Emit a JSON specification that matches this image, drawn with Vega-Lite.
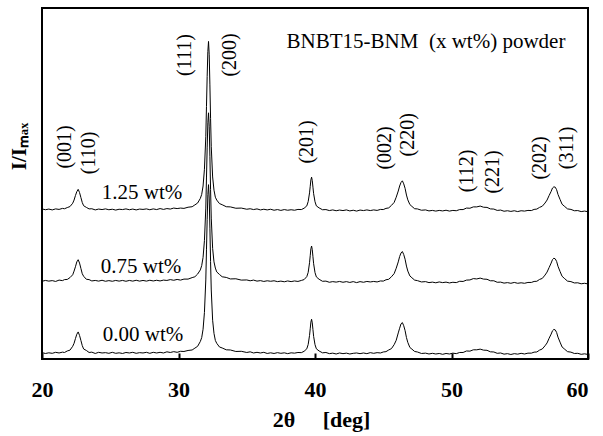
{
  "$schema": "https://vega.github.io/schema/vega-lite/v6.json",
  "width": 546,
  "height": 351,
  "autosize": {"type": "none"},
  "padding": {"left": 42, "top": 8, "right": 15, "bottom": 77},
  "background": "white",
  "config": {"view": {"stroke": "black", "strokeWidth": 2}, "font": "Liberation Serif"},
  "datasets": {
    "xrd": [
      {"t":"0.00","x":20.0,"y":0.038},{"t":"0.00","x":20.25,"y":0.033},{"t":"0.00","x":20.5,"y":0.037},{"t":"0.00","x":20.75,"y":0.034},{"t":"0.00","x":21.0,"y":0.040},{"t":"0.00","x":21.25,"y":0.036},{"t":"0.00","x":21.5,"y":0.041},{"t":"0.00","x":21.65,"y":0.039},{"t":"0.00","x":21.85,"y":0.048},{"t":"0.00","x":22.05,"y":0.053},{"t":"0.00","x":22.25,"y":0.076},{"t":"0.00","x":22.35,"y":0.094},{"t":"0.00","x":22.45,"y":0.122},{"t":"0.00","x":22.55,"y":0.148},{"t":"0.00","x":22.65,"y":0.162},{"t":"0.00","x":22.75,"y":0.141},{"t":"0.00","x":22.85,"y":0.111},{"t":"0.00","x":22.95,"y":0.080},{"t":"0.00","x":23.05,"y":0.060},{"t":"0.00","x":23.25,"y":0.051},{"t":"0.00","x":23.45,"y":0.039},{"t":"0.00","x":23.65,"y":0.041},{"t":"0.00","x":23.9,"y":0.033},{"t":"0.00","x":24.15,"y":0.040},{"t":"0.00","x":24.4,"y":0.036},{"t":"0.00","x":24.65,"y":0.038},{"t":"0.00","x":24.9,"y":0.034},{"t":"0.00","x":25.15,"y":0.040},{"t":"0.00","x":25.4,"y":0.034},{"t":"0.00","x":25.65,"y":0.037},{"t":"0.00","x":25.9,"y":0.033},{"t":"0.00","x":26.15,"y":0.039},{"t":"0.00","x":26.4,"y":0.036},{"t":"0.00","x":26.65,"y":0.040},{"t":"0.00","x":26.9,"y":0.034},{"t":"0.00","x":27.15,"y":0.038},{"t":"0.00","x":27.4,"y":0.036},{"t":"0.00","x":27.65,"y":0.040},{"t":"0.00","x":27.9,"y":0.034},{"t":"0.00","x":28.15,"y":0.040},{"t":"0.00","x":28.4,"y":0.036},{"t":"0.00","x":28.65,"y":0.040},{"t":"0.00","x":28.9,"y":0.036},{"t":"0.00","x":29.15,"y":0.043},{"t":"0.00","x":29.4,"y":0.039},{"t":"0.00","x":29.65,"y":0.044},{"t":"0.00","x":29.9,"y":0.040},{"t":"0.00","x":30.15,"y":0.046},{"t":"0.00","x":30.4,"y":0.045},{"t":"0.00","x":30.7,"y":0.051},{"t":"0.00","x":31.0,"y":0.054},{"t":"0.00","x":31.2,"y":0.065},{"t":"0.00","x":31.4,"y":0.076},{"t":"0.00","x":31.6,"y":0.105},{"t":"0.00","x":31.7,"y":0.128},{"t":"0.00","x":31.8,"y":0.178},{"t":"0.00","x":31.9,"y":0.278},{"t":"0.00","x":32.0,"y":0.473},{"t":"0.00","x":32.05,"y":0.653},{"t":"0.00","x":32.1,"y":0.833},{"t":"0.00","x":32.15,"y":0.983},{"t":"0.00","x":32.2,"y":1.043},{"t":"0.00","x":32.25,"y":0.963},{"t":"0.00","x":32.3,"y":0.783},{"t":"0.00","x":32.35,"y":0.583},{"t":"0.00","x":32.4,"y":0.413},{"t":"0.00","x":32.5,"y":0.232},{"t":"0.00","x":32.6,"y":0.153},{"t":"0.00","x":32.7,"y":0.111},{"t":"0.00","x":32.8,"y":0.094},{"t":"0.00","x":33.0,"y":0.072},{"t":"0.00","x":33.2,"y":0.066},{"t":"0.00","x":33.5,"y":0.055},{"t":"0.00","x":33.8,"y":0.054},{"t":"0.00","x":34.2,"y":0.045},{"t":"0.00","x":34.6,"y":0.046},{"t":"0.00","x":35.0,"y":0.039},{"t":"0.00","x":35.25,"y":0.043},{"t":"0.00","x":35.5,"y":0.036},{"t":"0.00","x":35.75,"y":0.040},{"t":"0.00","x":36.0,"y":0.036},{"t":"0.00","x":36.25,"y":0.040},{"t":"0.00","x":36.5,"y":0.033},{"t":"0.00","x":36.75,"y":0.037},{"t":"0.00","x":37.0,"y":0.033},{"t":"0.00","x":37.25,"y":0.038},{"t":"0.00","x":37.5,"y":0.034},{"t":"0.00","x":37.75,"y":0.037},{"t":"0.00","x":38.0,"y":0.032},{"t":"0.00","x":38.25,"y":0.037},{"t":"0.00","x":38.5,"y":0.035},{"t":"0.00","x":38.75,"y":0.039},{"t":"0.00","x":39.0,"y":0.038},{"t":"0.00","x":39.2,"y":0.046},{"t":"0.00","x":39.4,"y":0.061},{"t":"0.00","x":39.5,"y":0.087},{"t":"0.00","x":39.6,"y":0.141},{"t":"0.00","x":39.65,"y":0.181},{"t":"0.00","x":39.7,"y":0.221},{"t":"0.00","x":39.75,"y":0.238},{"t":"0.00","x":39.8,"y":0.216},{"t":"0.00","x":39.85,"y":0.176},{"t":"0.00","x":39.9,"y":0.135},{"t":"0.00","x":40.0,"y":0.086},{"t":"0.00","x":40.1,"y":0.061},{"t":"0.00","x":40.3,"y":0.048},{"t":"0.00","x":40.55,"y":0.037},{"t":"0.00","x":40.8,"y":0.039},{"t":"0.00","x":41.05,"y":0.032},{"t":"0.00","x":41.3,"y":0.035},{"t":"0.00","x":41.55,"y":0.030},{"t":"0.00","x":41.8,"y":0.036},{"t":"0.00","x":42.05,"y":0.032},{"t":"0.00","x":42.3,"y":0.035},{"t":"0.00","x":42.55,"y":0.030},{"t":"0.00","x":42.8,"y":0.034},{"t":"0.00","x":43.05,"y":0.036},{"t":"0.00","x":43.3,"y":0.032},{"t":"0.00","x":43.55,"y":0.036},{"t":"0.00","x":43.8,"y":0.032},{"t":"0.00","x":44.05,"y":0.038},{"t":"0.00","x":44.3,"y":0.034},{"t":"0.00","x":44.55,"y":0.038},{"t":"0.00","x":44.8,"y":0.036},{"t":"0.00","x":45.0,"y":0.042},{"t":"0.00","x":45.2,"y":0.044},{"t":"0.00","x":45.4,"y":0.054},{"t":"0.00","x":45.6,"y":0.062},{"t":"0.00","x":45.8,"y":0.086},{"t":"0.00","x":45.95,"y":0.112},{"t":"0.00","x":46.1,"y":0.156},{"t":"0.00","x":46.2,"y":0.184},{"t":"0.00","x":46.3,"y":0.210},{"t":"0.00","x":46.4,"y":0.218},{"t":"0.00","x":46.5,"y":0.199},{"t":"0.00","x":46.6,"y":0.170},{"t":"0.00","x":46.7,"y":0.128},{"t":"0.00","x":46.8,"y":0.099},{"t":"0.00","x":46.95,"y":0.069},{"t":"0.00","x":47.1,"y":0.059},{"t":"0.00","x":47.3,"y":0.045},{"t":"0.00","x":47.5,"y":0.042},{"t":"0.00","x":47.8,"y":0.033},{"t":"0.00","x":48.1,"y":0.035},{"t":"0.00","x":48.35,"y":0.030},{"t":"0.00","x":48.6,"y":0.034},{"t":"0.00","x":48.85,"y":0.030},{"t":"0.00","x":49.1,"y":0.033},{"t":"0.00","x":49.35,"y":0.028},{"t":"0.00","x":49.6,"y":0.033},{"t":"0.00","x":49.85,"y":0.030},{"t":"0.00","x":50.1,"y":0.035},{"t":"0.00","x":50.35,"y":0.032},{"t":"0.00","x":50.6,"y":0.039},{"t":"0.00","x":50.85,"y":0.039},{"t":"0.00","x":51.1,"y":0.048},{"t":"0.00","x":51.35,"y":0.047},{"t":"0.00","x":51.6,"y":0.055},{"t":"0.00","x":51.85,"y":0.055},{"t":"0.00","x":52.1,"y":0.059},{"t":"0.00","x":52.35,"y":0.053},{"t":"0.00","x":52.6,"y":0.052},{"t":"0.00","x":52.85,"y":0.043},{"t":"0.00","x":53.1,"y":0.042},{"t":"0.00","x":53.35,"y":0.034},{"t":"0.00","x":53.6,"y":0.036},{"t":"0.00","x":53.85,"y":0.029},{"t":"0.00","x":54.1,"y":0.032},{"t":"0.00","x":54.35,"y":0.027},{"t":"0.00","x":54.6,"y":0.032},{"t":"0.00","x":54.85,"y":0.029},{"t":"0.00","x":55.1,"y":0.034},{"t":"0.00","x":55.35,"y":0.030},{"t":"0.00","x":55.6,"y":0.035},{"t":"0.00","x":55.85,"y":0.035},{"t":"0.00","x":56.05,"y":0.041},{"t":"0.00","x":56.25,"y":0.042},{"t":"0.00","x":56.45,"y":0.053},{"t":"0.00","x":56.65,"y":0.060},{"t":"0.00","x":56.85,"y":0.079},{"t":"0.00","x":57.0,"y":0.096},{"t":"0.00","x":57.15,"y":0.124},{"t":"0.00","x":57.3,"y":0.149},{"t":"0.00","x":57.4,"y":0.169},{"t":"0.00","x":57.5,"y":0.177},{"t":"0.00","x":57.6,"y":0.174},{"t":"0.00","x":57.7,"y":0.159},{"t":"0.00","x":57.8,"y":0.131},{"t":"0.00","x":57.95,"y":0.101},{"t":"0.00","x":58.1,"y":0.072},{"t":"0.00","x":58.3,"y":0.058},{"t":"0.00","x":58.5,"y":0.044},{"t":"0.00","x":58.75,"y":0.041},{"t":"0.00","x":59.0,"y":0.033},{"t":"0.00","x":59.25,"y":0.034},{"t":"0.00","x":59.5,"y":0.028},{"t":"0.00","x":59.75,"y":0.031},{"t":"0.00","x":60.0,"y":0.027},

      {"t":"0.75","x":20.0,"y":0.465},{"t":"0.75","x":20.25,"y":0.470},{"t":"0.75","x":20.5,"y":0.466},{"t":"0.75","x":20.75,"y":0.469},{"t":"0.75","x":21.0,"y":0.464},{"t":"0.75","x":21.25,"y":0.472},{"t":"0.75","x":21.5,"y":0.469},{"t":"0.75","x":21.65,"y":0.475},{"t":"0.75","x":21.85,"y":0.476},{"t":"0.75","x":22.05,"y":0.487},{"t":"0.75","x":22.25,"y":0.504},{"t":"0.75","x":22.35,"y":0.526},{"t":"0.75","x":22.45,"y":0.552},{"t":"0.75","x":22.55,"y":0.581},{"t":"0.75","x":22.65,"y":0.594},{"t":"0.75","x":22.75,"y":0.574},{"t":"0.75","x":22.85,"y":0.542},{"t":"0.75","x":22.95,"y":0.510},{"t":"0.75","x":23.05,"y":0.495},{"t":"0.75","x":23.25,"y":0.477},{"t":"0.75","x":23.45,"y":0.475},{"t":"0.75","x":23.65,"y":0.467},{"t":"0.75","x":23.9,"y":0.470},{"t":"0.75","x":24.15,"y":0.466},{"t":"0.75","x":24.4,"y":0.471},{"t":"0.75","x":24.65,"y":0.465},{"t":"0.75","x":24.9,"y":0.469},{"t":"0.75","x":25.15,"y":0.465},{"t":"0.75","x":25.4,"y":0.470},{"t":"0.75","x":25.65,"y":0.466},{"t":"0.75","x":25.9,"y":0.470},{"t":"0.75","x":26.15,"y":0.465},{"t":"0.75","x":26.4,"y":0.470},{"t":"0.75","x":26.65,"y":0.466},{"t":"0.75","x":26.9,"y":0.471},{"t":"0.75","x":27.15,"y":0.466},{"t":"0.75","x":27.4,"y":0.470},{"t":"0.75","x":27.65,"y":0.466},{"t":"0.75","x":27.9,"y":0.471},{"t":"0.75","x":28.15,"y":0.467},{"t":"0.75","x":28.4,"y":0.471},{"t":"0.75","x":28.65,"y":0.467},{"t":"0.75","x":28.9,"y":0.472},{"t":"0.75","x":29.15,"y":0.470},{"t":"0.75","x":29.4,"y":0.475},{"t":"0.75","x":29.65,"y":0.471},{"t":"0.75","x":29.9,"y":0.476},{"t":"0.75","x":30.15,"y":0.472},{"t":"0.75","x":30.4,"y":0.478},{"t":"0.75","x":30.7,"y":0.478},{"t":"0.75","x":31.0,"y":0.487},{"t":"0.75","x":31.2,"y":0.492},{"t":"0.75","x":31.4,"y":0.508},{"t":"0.75","x":31.6,"y":0.533},{"t":"0.75","x":31.7,"y":0.559},{"t":"0.75","x":31.8,"y":0.608},{"t":"0.75","x":31.9,"y":0.708},{"t":"0.75","x":32.0,"y":0.903},{"t":"0.75","x":32.05,"y":1.083},{"t":"0.75","x":32.1,"y":1.263},{"t":"0.75","x":32.15,"y":1.413},{"t":"0.75","x":32.2,"y":1.473},{"t":"0.75","x":32.25,"y":1.393},{"t":"0.75","x":32.3,"y":1.213},{"t":"0.75","x":32.35,"y":1.013},{"t":"0.75","x":32.4,"y":0.843},{"t":"0.75","x":32.5,"y":0.662},{"t":"0.75","x":32.6,"y":0.581},{"t":"0.75","x":32.7,"y":0.544},{"t":"0.75","x":32.8,"y":0.521},{"t":"0.75","x":33.0,"y":0.506},{"t":"0.75","x":33.2,"y":0.492},{"t":"0.75","x":33.5,"y":0.488},{"t":"0.75","x":33.8,"y":0.479},{"t":"0.75","x":34.2,"y":0.480},{"t":"0.75","x":34.6,"y":0.472},{"t":"0.75","x":35.0,"y":0.473},{"t":"0.75","x":35.25,"y":0.468},{"t":"0.75","x":35.5,"y":0.472},{"t":"0.75","x":35.75,"y":0.466},{"t":"0.75","x":36.0,"y":0.469},{"t":"0.75","x":36.25,"y":0.464},{"t":"0.75","x":36.5,"y":0.468},{"t":"0.75","x":36.75,"y":0.465},{"t":"0.75","x":37.0,"y":0.468},{"t":"0.75","x":37.25,"y":0.463},{"t":"0.75","x":37.5,"y":0.466},{"t":"0.75","x":37.75,"y":0.462},{"t":"0.75","x":38.0,"y":0.467},{"t":"0.75","x":38.25,"y":0.463},{"t":"0.75","x":38.5,"y":0.467},{"t":"0.75","x":38.75,"y":0.464},{"t":"0.75","x":39.0,"y":0.470},{"t":"0.75","x":39.2,"y":0.475},{"t":"0.75","x":39.4,"y":0.493},{"t":"0.75","x":39.5,"y":0.518},{"t":"0.75","x":39.6,"y":0.576},{"t":"0.75","x":39.65,"y":0.618},{"t":"0.75","x":39.7,"y":0.660},{"t":"0.75","x":39.75,"y":0.676},{"t":"0.75","x":39.8,"y":0.654},{"t":"0.75","x":39.85,"y":0.612},{"t":"0.75","x":39.9,"y":0.570},{"t":"0.75","x":40.0,"y":0.517},{"t":"0.75","x":40.1,"y":0.491},{"t":"0.75","x":40.3,"y":0.477},{"t":"0.75","x":40.55,"y":0.465},{"t":"0.75","x":40.8,"y":0.466},{"t":"0.75","x":41.05,"y":0.459},{"t":"0.75","x":41.3,"y":0.463},{"t":"0.75","x":41.55,"y":0.460},{"t":"0.75","x":41.8,"y":0.464},{"t":"0.75","x":42.05,"y":0.459},{"t":"0.75","x":42.3,"y":0.463},{"t":"0.75","x":42.55,"y":0.458},{"t":"0.75","x":42.8,"y":0.463},{"t":"0.75","x":43.05,"y":0.457},{"t":"0.75","x":43.3,"y":0.463},{"t":"0.75","x":43.55,"y":0.459},{"t":"0.75","x":43.8,"y":0.464},{"t":"0.75","x":44.05,"y":0.461},{"t":"0.75","x":44.3,"y":0.464},{"t":"0.75","x":44.55,"y":0.461},{"t":"0.75","x":44.8,"y":0.467},{"t":"0.75","x":45.0,"y":0.466},{"t":"0.75","x":45.2,"y":0.474},{"t":"0.75","x":45.4,"y":0.477},{"t":"0.75","x":45.6,"y":0.492},{"t":"0.75","x":45.8,"y":0.511},{"t":"0.75","x":45.95,"y":0.543},{"t":"0.75","x":46.1,"y":0.581},{"t":"0.75","x":46.2,"y":0.613},{"t":"0.75","x":46.3,"y":0.634},{"t":"0.75","x":46.4,"y":0.643},{"t":"0.75","x":46.5,"y":0.625},{"t":"0.75","x":46.6,"y":0.597},{"t":"0.75","x":46.7,"y":0.556},{"t":"0.75","x":46.8,"y":0.526},{"t":"0.75","x":46.95,"y":0.497},{"t":"0.75","x":47.1,"y":0.486},{"t":"0.75","x":47.3,"y":0.472},{"t":"0.75","x":47.5,"y":0.469},{"t":"0.75","x":47.8,"y":0.461},{"t":"0.75","x":48.1,"y":0.463},{"t":"0.75","x":48.35,"y":0.457},{"t":"0.75","x":48.6,"y":0.460},{"t":"0.75","x":48.85,"y":0.456},{"t":"0.75","x":49.1,"y":0.461},{"t":"0.75","x":49.35,"y":0.457},{"t":"0.75","x":49.6,"y":0.460},{"t":"0.75","x":49.85,"y":0.455},{"t":"0.75","x":50.1,"y":0.459},{"t":"0.75","x":50.35,"y":0.457},{"t":"0.75","x":50.6,"y":0.465},{"t":"0.75","x":50.85,"y":0.464},{"t":"0.75","x":51.1,"y":0.472},{"t":"0.75","x":51.35,"y":0.473},{"t":"0.75","x":51.6,"y":0.481},{"t":"0.75","x":51.85,"y":0.479},{"t":"0.75","x":52.1,"y":0.484},{"t":"0.75","x":52.35,"y":0.478},{"t":"0.75","x":52.6,"y":0.477},{"t":"0.75","x":52.85,"y":0.468},{"t":"0.75","x":53.1,"y":0.468},{"t":"0.75","x":53.35,"y":0.459},{"t":"0.75","x":53.6,"y":0.460},{"t":"0.75","x":53.85,"y":0.454},{"t":"0.75","x":54.1,"y":0.457},{"t":"0.75","x":54.35,"y":0.453},{"t":"0.75","x":54.6,"y":0.458},{"t":"0.75","x":54.85,"y":0.453},{"t":"0.75","x":55.1,"y":0.456},{"t":"0.75","x":55.35,"y":0.453},{"t":"0.75","x":55.6,"y":0.458},{"t":"0.75","x":55.85,"y":0.458},{"t":"0.75","x":56.05,"y":0.464},{"t":"0.75","x":56.25,"y":0.465},{"t":"0.75","x":56.45,"y":0.476},{"t":"0.75","x":56.65,"y":0.482},{"t":"0.75","x":56.85,"y":0.502},{"t":"0.75","x":57.0,"y":0.520},{"t":"0.75","x":57.15,"y":0.547},{"t":"0.75","x":57.3,"y":0.574},{"t":"0.75","x":57.4,"y":0.595},{"t":"0.75","x":57.5,"y":0.603},{"t":"0.75","x":57.6,"y":0.599},{"t":"0.75","x":57.7,"y":0.584},{"t":"0.75","x":57.8,"y":0.555},{"t":"0.75","x":57.95,"y":0.524},{"t":"0.75","x":58.1,"y":0.495},{"t":"0.75","x":58.3,"y":0.480},{"t":"0.75","x":58.5,"y":0.466},{"t":"0.75","x":58.75,"y":0.463},{"t":"0.75","x":59.0,"y":0.455},{"t":"0.75","x":59.25,"y":0.456},{"t":"0.75","x":59.5,"y":0.450},{"t":"0.75","x":59.75,"y":0.453},{"t":"0.75","x":60.0,"y":0.449},

      {"t":"1.25","x":20.0,"y":0.898},{"t":"1.25","x":20.25,"y":0.893},{"t":"1.25","x":20.5,"y":0.897},{"t":"1.25","x":20.75,"y":0.892},{"t":"1.25","x":21.0,"y":0.898},{"t":"1.25","x":21.25,"y":0.895},{"t":"1.25","x":21.5,"y":0.901},{"t":"1.25","x":21.65,"y":0.899},{"t":"1.25","x":21.85,"y":0.906},{"t":"1.25","x":22.05,"y":0.912},{"t":"1.25","x":22.25,"y":0.932},{"t":"1.25","x":22.35,"y":0.951},{"t":"1.25","x":22.45,"y":0.978},{"t":"1.25","x":22.55,"y":1.001},{"t":"1.25","x":22.65,"y":1.015},{"t":"1.25","x":22.75,"y":0.996},{"t":"1.25","x":22.85,"y":0.966},{"t":"1.25","x":22.95,"y":0.936},{"t":"1.25","x":23.05,"y":0.917},{"t":"1.25","x":23.25,"y":0.907},{"t":"1.25","x":23.45,"y":0.898},{"t":"1.25","x":23.65,"y":0.899},{"t":"1.25","x":23.9,"y":0.892},{"t":"1.25","x":24.15,"y":0.897},{"t":"1.25","x":24.4,"y":0.894},{"t":"1.25","x":24.65,"y":0.898},{"t":"1.25","x":24.9,"y":0.893},{"t":"1.25","x":25.15,"y":0.896},{"t":"1.25","x":25.4,"y":0.891},{"t":"1.25","x":25.65,"y":0.896},{"t":"1.25","x":25.9,"y":0.894},{"t":"1.25","x":26.15,"y":0.898},{"t":"1.25","x":26.4,"y":0.893},{"t":"1.25","x":26.65,"y":0.897},{"t":"1.25","x":26.9,"y":0.892},{"t":"1.25","x":27.15,"y":0.897},{"t":"1.25","x":27.4,"y":0.895},{"t":"1.25","x":27.65,"y":0.898},{"t":"1.25","x":27.9,"y":0.893},{"t":"1.25","x":28.15,"y":0.898},{"t":"1.25","x":28.4,"y":0.894},{"t":"1.25","x":28.65,"y":0.900},{"t":"1.25","x":28.9,"y":0.895},{"t":"1.25","x":29.15,"y":0.900},{"t":"1.25","x":29.4,"y":0.897},{"t":"1.25","x":29.65,"y":0.903},{"t":"1.25","x":29.9,"y":0.900},{"t":"1.25","x":30.15,"y":0.903},{"t":"1.25","x":30.4,"y":0.901},{"t":"1.25","x":30.7,"y":0.908},{"t":"1.25","x":31.0,"y":0.911},{"t":"1.25","x":31.2,"y":0.922},{"t":"1.25","x":31.4,"y":0.933},{"t":"1.25","x":31.6,"y":0.961},{"t":"1.25","x":31.7,"y":0.985},{"t":"1.25","x":31.8,"y":1.035},{"t":"1.25","x":31.9,"y":1.135},{"t":"1.25","x":32.0,"y":1.330},{"t":"1.25","x":32.05,"y":1.510},{"t":"1.25","x":32.1,"y":1.690},{"t":"1.25","x":32.15,"y":1.840},{"t":"1.25","x":32.2,"y":1.900},{"t":"1.25","x":32.25,"y":1.820},{"t":"1.25","x":32.3,"y":1.640},{"t":"1.25","x":32.35,"y":1.440},{"t":"1.25","x":32.4,"y":1.270},{"t":"1.25","x":32.5,"y":1.089},{"t":"1.25","x":32.6,"y":1.010},{"t":"1.25","x":32.7,"y":0.968},{"t":"1.25","x":32.8,"y":0.951},{"t":"1.25","x":33.0,"y":0.930},{"t":"1.25","x":33.2,"y":0.923},{"t":"1.25","x":33.5,"y":0.911},{"t":"1.25","x":33.8,"y":0.910},{"t":"1.25","x":34.2,"y":0.902},{"t":"1.25","x":34.6,"y":0.903},{"t":"1.25","x":35.0,"y":0.896},{"t":"1.25","x":35.25,"y":0.899},{"t":"1.25","x":35.5,"y":0.894},{"t":"1.25","x":35.75,"y":0.898},{"t":"1.25","x":36.0,"y":0.892},{"t":"1.25","x":36.25,"y":0.896},{"t":"1.25","x":36.5,"y":0.892},{"t":"1.25","x":36.75,"y":0.896},{"t":"1.25","x":37.0,"y":0.890},{"t":"1.25","x":37.25,"y":0.894},{"t":"1.25","x":37.5,"y":0.889},{"t":"1.25","x":37.75,"y":0.894},{"t":"1.25","x":38.0,"y":0.890},{"t":"1.25","x":38.25,"y":0.893},{"t":"1.25","x":38.5,"y":0.890},{"t":"1.25","x":38.75,"y":0.895},{"t":"1.25","x":39.0,"y":0.894},{"t":"1.25","x":39.2,"y":0.902},{"t":"1.25","x":39.4,"y":0.916},{"t":"1.25","x":39.5,"y":0.942},{"t":"1.25","x":39.6,"y":0.994},{"t":"1.25","x":39.65,"y":1.033},{"t":"1.25","x":39.7,"y":1.072},{"t":"1.25","x":39.75,"y":1.088},{"t":"1.25","x":39.8,"y":1.067},{"t":"1.25","x":39.85,"y":1.028},{"t":"1.25","x":39.9,"y":0.989},{"t":"1.25","x":40.0,"y":0.941},{"t":"1.25","x":40.1,"y":0.916},{"t":"1.25","x":40.3,"y":0.904},{"t":"1.25","x":40.55,"y":0.893},{"t":"1.25","x":40.8,"y":0.894},{"t":"1.25","x":41.05,"y":0.888},{"t":"1.25","x":41.3,"y":0.892},{"t":"1.25","x":41.55,"y":0.887},{"t":"1.25","x":41.8,"y":0.891},{"t":"1.25","x":42.05,"y":0.888},{"t":"1.25","x":42.3,"y":0.892},{"t":"1.25","x":42.55,"y":0.886},{"t":"1.25","x":42.8,"y":0.890},{"t":"1.25","x":43.05,"y":0.885},{"t":"1.25","x":43.3,"y":0.891},{"t":"1.25","x":43.55,"y":0.888},{"t":"1.25","x":43.8,"y":0.892},{"t":"1.25","x":44.05,"y":0.888},{"t":"1.25","x":44.3,"y":0.892},{"t":"1.25","x":44.55,"y":0.889},{"t":"1.25","x":44.8,"y":0.895},{"t":"1.25","x":45.0,"y":0.894},{"t":"1.25","x":45.2,"y":0.901},{"t":"1.25","x":45.4,"y":0.904},{"t":"1.25","x":45.6,"y":0.919},{"t":"1.25","x":45.8,"y":0.937},{"t":"1.25","x":45.95,"y":0.968},{"t":"1.25","x":46.1,"y":1.005},{"t":"1.25","x":46.2,"y":1.035},{"t":"1.25","x":46.3,"y":1.056},{"t":"1.25","x":46.4,"y":1.066},{"t":"1.25","x":46.5,"y":1.048},{"t":"1.25","x":46.6,"y":1.021},{"t":"1.25","x":46.7,"y":0.981},{"t":"1.25","x":46.8,"y":0.952},{"t":"1.25","x":46.95,"y":0.924},{"t":"1.25","x":47.1,"y":0.913},{"t":"1.25","x":47.3,"y":0.899},{"t":"1.25","x":47.5,"y":0.898},{"t":"1.25","x":47.8,"y":0.890},{"t":"1.25","x":48.1,"y":0.892},{"t":"1.25","x":48.35,"y":0.886},{"t":"1.25","x":48.6,"y":0.889},{"t":"1.25","x":48.85,"y":0.885},{"t":"1.25","x":49.1,"y":0.889},{"t":"1.25","x":49.35,"y":0.886},{"t":"1.25","x":49.6,"y":0.890},{"t":"1.25","x":49.85,"y":0.885},{"t":"1.25","x":50.1,"y":0.889},{"t":"1.25","x":50.35,"y":0.887},{"t":"1.25","x":50.6,"y":0.894},{"t":"1.25","x":50.85,"y":0.894},{"t":"1.25","x":51.1,"y":0.903},{"t":"1.25","x":51.35,"y":0.902},{"t":"1.25","x":51.6,"y":0.910},{"t":"1.25","x":51.85,"y":0.910},{"t":"1.25","x":52.1,"y":0.915},{"t":"1.25","x":52.35,"y":0.908},{"t":"1.25","x":52.6,"y":0.907},{"t":"1.25","x":52.85,"y":0.898},{"t":"1.25","x":53.1,"y":0.897},{"t":"1.25","x":53.35,"y":0.889},{"t":"1.25","x":53.6,"y":0.891},{"t":"1.25","x":53.85,"y":0.884},{"t":"1.25","x":54.1,"y":0.887},{"t":"1.25","x":54.35,"y":0.883},{"t":"1.25","x":54.6,"y":0.887},{"t":"1.25","x":54.85,"y":0.882},{"t":"1.25","x":55.1,"y":0.887},{"t":"1.25","x":55.35,"y":0.885},{"t":"1.25","x":55.6,"y":0.889},{"t":"1.25","x":55.85,"y":0.888},{"t":"1.25","x":56.05,"y":0.895},{"t":"1.25","x":56.25,"y":0.897},{"t":"1.25","x":56.45,"y":0.907},{"t":"1.25","x":56.65,"y":0.914},{"t":"1.25","x":56.85,"y":0.933},{"t":"1.25","x":57.0,"y":0.951},{"t":"1.25","x":57.15,"y":0.978},{"t":"1.25","x":57.3,"y":1.003},{"t":"1.25","x":57.4,"y":1.023},{"t":"1.25","x":57.5,"y":1.030},{"t":"1.25","x":57.6,"y":1.028},{"t":"1.25","x":57.7,"y":1.013},{"t":"1.25","x":57.8,"y":0.985},{"t":"1.25","x":57.95,"y":0.955},{"t":"1.25","x":58.1,"y":0.926},{"t":"1.25","x":58.3,"y":0.912},{"t":"1.25","x":58.5,"y":0.898},{"t":"1.25","x":58.75,"y":0.895},{"t":"1.25","x":59.0,"y":0.887},{"t":"1.25","x":59.25,"y":0.888},{"t":"1.25","x":59.5,"y":0.882},{"t":"1.25","x":59.75,"y":0.885},{"t":"1.25","x":60.0,"y":0.881}
    ],
    "hkl": [
      {"label":"(001)","x":21.68,"y":1.269},{"label":"(110)","x":23.44,"y":1.233},{"label":"(111)","x":30.48,"y":1.819},{"label":"(200)","x":33.77,"y":1.819},{"label":"(201)","x":39.41,"y":1.299},{"label":"(002)","x":45.13,"y":1.263},{"label":"(220)","x":46.81,"y":1.341},{"label":"(112)","x":51.14,"y":1.125},{"label":"(221)","x":53.04,"y":1.119},{"label":"(202)","x":56.48,"y":1.203},{"label":"(311)","x":58.46,"y":1.263}
    ],
    "lab": [
      {"label":"1.25 wt%","x":27.33,"y":0.993},{"label":"0.75 wt%","x":27.25,"y":0.551},{"label":"0.00 wt%","x":27.4,"y":0.144},{"label":"BNBT15-BNM\u00a0 (x wt%) powder","x":48.13,"y":1.897}
    ]
  },
  "layer": [
    {
      "data": {"name": "xrd"},
      "mark": {"type": "line", "color": "black", "strokeWidth": 1, "clip": true},
      "encoding": {
        "x": {"field": "x", "type": "quantitative", "scale": {"domain": [20, 60], "nice": false},
          "axis": {"values": [20, 30, 40, 50, 60], "domain": false, "grid": false, "tickSize": -6, "tickWidth": 2, "tickColor": "black",
            "labelFont": "Liberation Serif", "labelFontSize": 22, "labelFontWeight": "bold", "labelColor": "black",
            "labelFlush": false, "labelBaseline": "alphabetic", "labelPadding": 43,
            "labelAlign": {"condition": {"test": "datum.value >= 60", "value": "right"}, "value": "center"},
            "title": "2θ\u00a0\u00a0\u00a0\u00a0 [deg]", "titleFont": "Liberation Serif", "titleFontSize": 22, "titleFontWeight": "bold", "titleColor": "black",
            "titleBaseline": "alphabetic", "titleY": 67, "titleX": 279}},
        "y": {"field": "y", "type": "quantitative", "scale": {"domain": [0, 2.1], "nice": false, "zero": false},
          "axis": {"labels": false, "ticks": false, "domain": false, "grid": false,
            "title": "I/Iₘₐₓ", "titleFont": "Liberation Serif", "titleFontSize": 21, "titleFontWeight": "bold", "titleColor": "black",
            "titleAngle": 270, "titleAlign": "center", "titleBaseline": "alphabetic", "titleX": -17, "titleY": 138}},
        "detail": {"field": "t"}
      }
    },
    {
      "data": {"name": "hkl"},
      "mark": {"type": "text", "angle": 270, "fontSize": 20, "font": "Liberation Serif", "color": "black", "align": "center", "baseline": "middle"},
      "encoding": {
        "x": {"field": "x", "type": "quantitative"},
        "y": {"field": "y", "type": "quantitative"},
        "text": {"field": "label"}
      }
    },
    {
      "data": {"name": "lab"},
      "mark": {"type": "text", "fontSize": 21, "font": "Liberation Serif", "color": "black", "align": "center", "baseline": "middle"},
      "encoding": {
        "x": {"field": "x", "type": "quantitative"},
        "y": {"field": "y", "type": "quantitative"},
        "text": {"field": "label"}
      }
    }
  ]
}
